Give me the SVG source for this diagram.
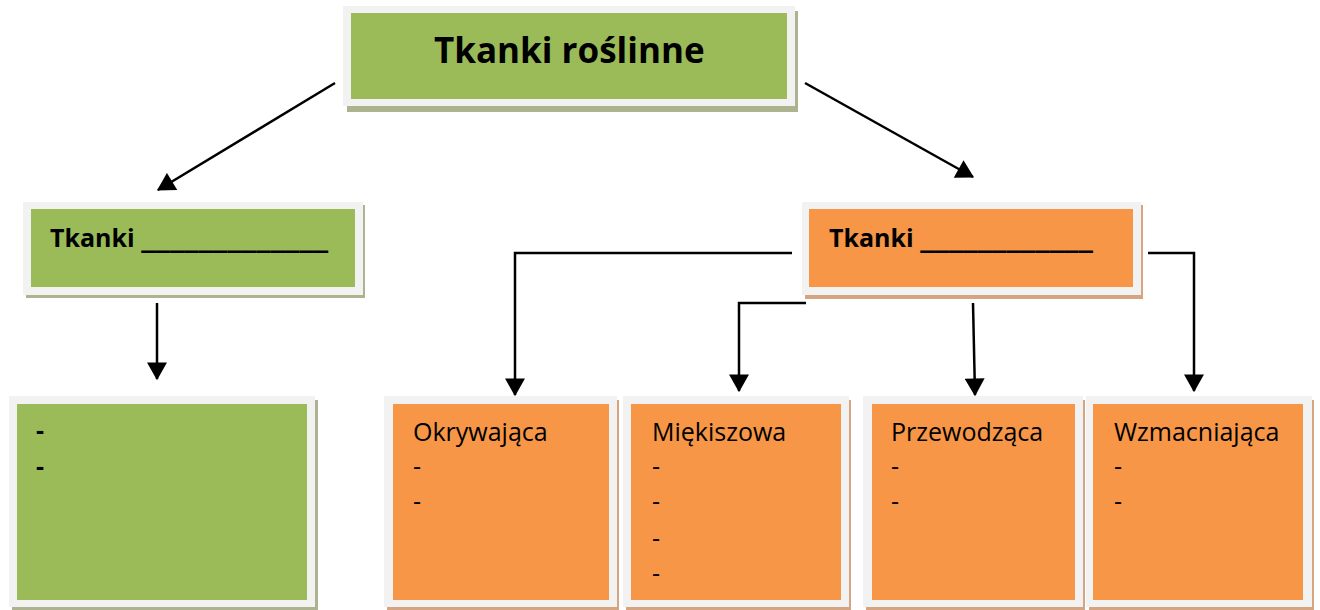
<svg xmlns="http://www.w3.org/2000/svg" width="1320" height="610" viewBox="0 0 1320 610">
<defs>
<style>
.frame{fill:#f2f2f2}
.g{fill:#9bbb59}
.o{fill:#f79646}
.gs{fill:#adb38f}
.os{fill:#d5a581}
.t{font-family:"Open Sans","Noto Sans",sans-serif;fill:#000}
.b{font-weight:bold}
.c{stroke:#000;stroke-width:2.5;fill:none}
</style>
<marker id="ah" markerUnits="userSpaceOnUse" markerWidth="20" markerHeight="20" viewBox="0 0 15 17" refX="14" refY="8.5" orient="auto">
<path d="M0,0 L15,8.5 L0,17 Z" fill="#000"/>
</marker>
</defs>
<rect width="1320" height="610" fill="#fff"/>

<g id="connectors">
<line class="c" x1="335" y1="83" x2="158" y2="190" marker-end="url(#ah)"/>
<line class="c" x1="805" y1="83" x2="973" y2="177" marker-end="url(#ah)"/>
<line class="c" x1="157" y1="303" x2="157" y2="379" marker-end="url(#ah)"/>
<polyline class="c" points="792,253 515,253 515,395" marker-end="url(#ah)"/>
<polyline class="c" points="806,303 739,303 739,391" marker-end="url(#ah)"/>
<line class="c" x1="973" y1="303" x2="975" y2="395" marker-end="url(#ah)"/>
<polyline class="c" points="1148,253 1194,253 1194,391" marker-end="url(#ah)"/>
</g>

<g id="root">
<rect class="gs" x="347" y="11" width="451" height="101"/>
<rect class="frame" x="343" y="6" width="452" height="100"/>
<rect class="g" x="351" y="13" width="436" height="86"/>
<text class="t b" x="434" y="63" font-size="35">Tkanki roślinne</text>
</g>

<g id="left">
<rect class="gs" x="26" y="205" width="339" height="93"/>
<rect class="frame" x="23" y="202" width="340" height="93"/>
<rect class="g" x="31" y="209" width="324" height="78"/>
<text class="t b" x="50" y="247" font-size="25">Tkanki <tspan font-size="35">_____________</tspan></text>
</g>

<g id="right">
<rect class="os" x="805" y="205" width="338" height="94"/>
<rect class="frame" x="802" y="202" width="339" height="93"/>
<rect class="o" x="809" y="209" width="324" height="78"/>
<text class="t b" x="829" y="247" font-size="25">Tkanki <tspan font-size="35">____________</tspan></text>
</g>

<g id="leftchild">
<rect class="gs" x="12" y="400" width="306" height="210"/>
<rect class="frame" x="9" y="396" width="306" height="211"/>
<rect class="g" x="17" y="404" width="290" height="196"/>
<text class="t b" x="36" y="439" font-size="25">-</text>
<text class="t b" x="36" y="475" font-size="25">-</text>
</g>

<g id="okrywajaca">
<rect class="os" x="387" y="400" width="232" height="210"/>
<rect class="frame" x="384" y="396" width="233" height="211"/>
<rect class="o" x="393" y="404" width="216" height="196"/>
<text class="t" x="413" y="441" font-size="25">Okrywająca</text>
<text class="t" x="413" y="475" font-size="25">-</text>
<text class="t" x="413" y="510" font-size="25">-</text>
</g>

<g id="miekiszowa">
<rect class="os" x="626" y="400" width="225" height="210"/>
<rect class="frame" x="623" y="396" width="226" height="211"/>
<rect class="o" x="631" y="404" width="210" height="196"/>
<text class="t" x="652" y="441" font-size="25">Miękiszowa</text>
<text class="t" x="652" y="475" font-size="25">-</text>
<text class="t" x="652" y="510" font-size="25">-</text>
<text class="t" x="652" y="547" font-size="25">-</text>
<text class="t" x="652" y="582" font-size="25">-</text>
</g>

<g id="przewodzaca">
<rect class="os" x="866" y="400" width="219" height="210"/>
<rect class="frame" x="863" y="396" width="220" height="211"/>
<rect class="o" x="872" y="404" width="203" height="196"/>
<text class="t" x="891" y="441" font-size="25">Przewodząca</text>
<text class="t" x="891" y="475" font-size="25">-</text>
<text class="t" x="891" y="510" font-size="25">-</text>
</g>

<g id="wzmacniajaca">
<rect class="os" x="1089" y="400" width="225" height="210"/>
<rect class="frame" x="1086" y="396" width="226" height="211"/>
<rect class="o" x="1093" y="404" width="210" height="196"/>
<text class="t" x="1114" y="441" font-size="25">Wzmacniająca</text>
<text class="t" x="1114" y="475" font-size="25">-</text>
<text class="t" x="1114" y="510" font-size="25">-</text>
</g>
</svg>
